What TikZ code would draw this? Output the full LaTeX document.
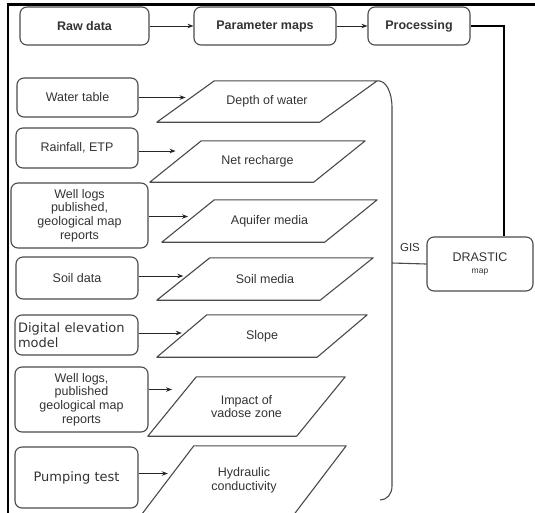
\documentclass[tikz,border=0pt]{standalone}
\usepackage{fontspec}
\setmainfont{Liberation Sans}
\newfontfamily\dejavu{DejaVu Sans}
\usetikzlibrary{arrows.meta}
\definecolor{ink}{HTML}{333333}
\definecolor{edge}{HTML}{4A4A4A}
\newcommand\drawpara[2]{\draw[lnk, line join=round]
  ([xshift={-(#2)/2}]#1.south west) -- ([xshift={-(#2)/2}]#1.south east)
  -- ([xshift={(#2)/2}]#1.north east) -- ([xshift={(#2)/2}]#1.north west) -- cycle;}
\begin{document}
\begin{tikzpicture}[x=1pt,y=-1pt,
  box/.style={draw=edge, line width=1.1pt, rounded corners=7pt, align=center,
    inner sep=0pt, text=ink, font=\fontsize{12.5}{13.7}\selectfont},
  topbox/.style={box, font=\fontsize{12.5}{14}\selectfont\bfseries},
  bigbox/.style={box, font=\dejavu\fontsize{13}{15}\selectfont},
  para/.style 2 args={minimum width=#1, minimum height=#2,
    inner sep=0pt, align=center, text=ink, font=\fontsize{12.5}{13.7}\selectfont},
  arr/.style={draw=black!85, line width=0.8pt, -{Stealth[length=6pt,width=4.5pt]}},
  lnk/.style={draw=edge, line width=1.1pt},
]
\useasboundingbox (0,0) rectangle (535,512);
% frame
\draw[line width=2.6pt] (8,513) -- (8,4.5) -- (536,4.5);

% top row
\node[topbox, minimum width=129pt, minimum height=38pt] (raw) at (84.5,26) {Raw data};
\node[topbox, minimum width=142pt, minimum height=38pt] (pm) at (265,26) {Parameter maps};
\node[topbox, minimum width=102pt, minimum height=38pt] (proc) at (419,26) {Processing};
\draw[arr] (raw) -- (pm);
\draw[arr] (pm) -- (proc);

% DRASTIC map
\node[box, minimum width=106pt, minimum height=54pt] (dr) at (480,264)
  {DRASTIC\\[-1pt]{\fontsize{8.5}{9}\selectfont map}};
\draw[line width=1.6pt] (proc.east) -| ([xshift=24pt]dr.north);

% left sources
\node[box, minimum width=121pt, minimum height=39pt] (wt) at (77.5,97.5) {Water table};
\node[box, minimum width=122pt, minimum height=40pt] (rf) at (77,148) {Rainfall, ETP};
\node[box, minimum width=137pt, minimum height=65pt] (wla) at (79.5,215.5)
  {Well logs\\published,\\geological map\\reports};
\node[box, minimum width=122pt, minimum height=42pt] (sd) at (77,278) {Soil data};
\node[bigbox, minimum width=123pt, minimum height=40pt, text width=117pt, align=left] (dem) at (76.5,335)
  {Digital elevation\\model};
\node[box, minimum width=133pt, minimum height=65pt] (wlb) at (81.5,399.5)
  {Well logs,\\published\\geological map\\reports};
\node[bigbox, minimum width=123pt, minimum height=61pt] (pt) at (76.5,477.5) {Pumping test};

% parameter maps (parallelograms: body node + slanted outline)
\node[para={162.5pt}{41pt}] (dw) at (267,101.5) {Depth of water};
\node[para={163.5pt}{41pt}] (nr) at (257.5,161.5) {Net recharge};
\node[para={162.5pt}{42pt}] (am) at (269.5,221) {Aquifer media};
\node[para={163pt}{42pt}] (sm) at (265,279) {Soil media};
\node[para={160pt}{42pt}] (sl) at (262,336) {Slope};
\node[para={148.5pt}{59pt}] (ia) at (246.5,406.5) {Impact of\\vadose zone};
\node[para={152pt}{68pt}] (hc) at (244,480) {Hydraulic\\conductivity};
\drawpara{dw}{57.5}
\drawpara{nr}{51.5}
\drawpara{am}{52.5}
\drawpara{sm}{53}
\drawpara{sl}{50}
\drawpara{ia}{48.5}
\drawpara{hc}{52}

% arrows source -> map
\draw[arr] (wt.east) -- (wt.east -| dw.west);
\draw[arr] ([yshift=-3pt]rf.east) -- ([yshift=-3pt]rf.east -| nr.west);
\draw[arr] ([yshift=-1pt]wla.east) -- ([yshift=-1pt]wla.east -| am.west);
\draw[arr] ([yshift=2pt]sd.east) -- ([yshift=2pt]sd.east -| sm.west);
\draw[arr] ([yshift=2pt]dem.east) -- ([yshift=2pt]dem.east -| sl.west);
\draw[arr] ([yshift=10pt]wlb.east) -- ([yshift=10pt]wlb.east -| ia.west);
\draw[arr] ([yshift=4pt]pt.east) -- ([yshift=4pt]pt.east -| hc.west);

% bracket grouping the maps
\draw[lnk] ([xshift=28.75pt]dw.north east) .. controls (386,80) and (392,92) .. (392,108)
  -- (392,486) .. controls (392,494) and (387,500) .. (380,500);
\coordinate (gis) at (392,263);
\draw[lnk] (gis) -- (dr.west);
\node[text=ink, font=\fontsize{11.5}{12}\selectfont, inner sep=0pt] (gislbl) at (410,248) {GIS};
\end{tikzpicture}
\end{document}
